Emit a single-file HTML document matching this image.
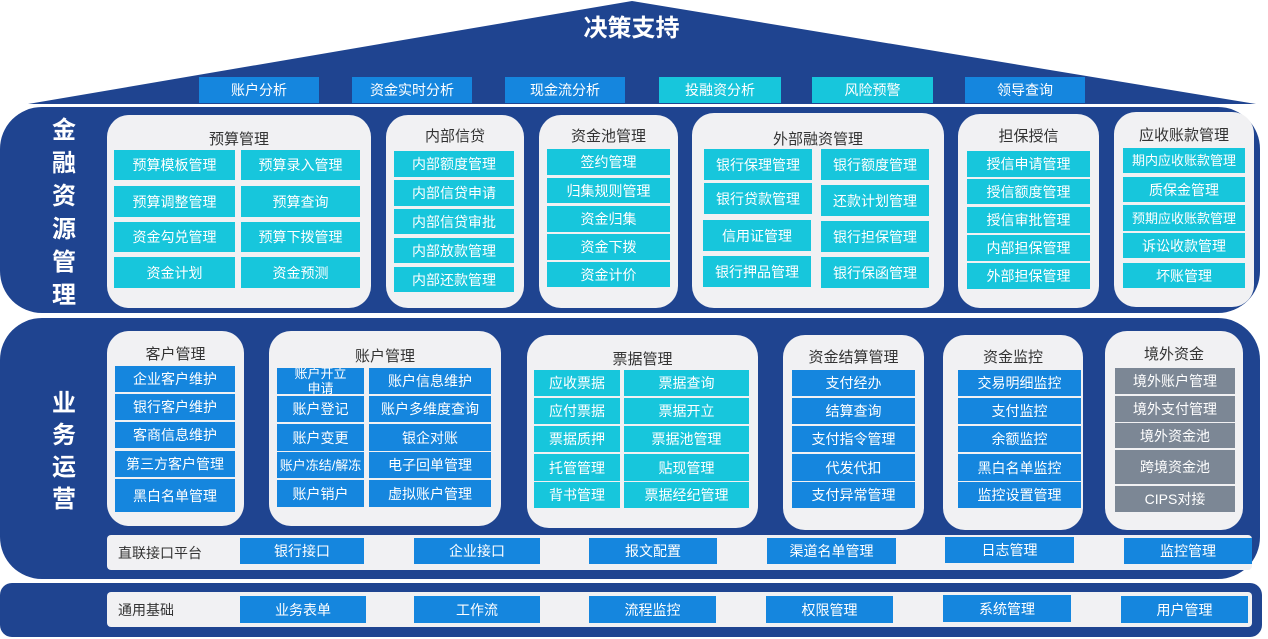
<!DOCTYPE html>
<html><head><meta charset="utf-8"><style>
*{margin:0;padding:0;box-sizing:border-box}
body{width:1268px;height:639px;background:#fff;position:relative;overflow:hidden;font-family:"Liberation Sans","Noto Sans CJK SC",sans-serif}
div{position:absolute}
.sec{background:#1f4490}
.box{background:#f1f1f3;border-radius:22px}
.t{color:#333;font-size:15px;text-align:center;white-space:nowrap}
.i{color:#fff;font-size:14px;display:flex;align-items:center;justify-content:center;text-align:center;white-space:nowrap;line-height:1}
.c{background:#17c6dc}
.b{background:#1586de}
.g{background:#7c8795}
.v{color:#fff;font-weight:bold;font-size:24px;width:40px;text-align:center;left:44px}
.bar{background:#f1f1f3;border-radius:4px}
.lb{color:#333;font-size:14px}
</style></head><body>
<svg style="position:absolute;left:0;top:0" width="1268" height="639"><polygon points="28,104 632,1 1256,104" fill="#1f4490"/></svg>
<div style="left:0;top:8px;width:1263px;text-align:center;color:#fff;font-size:24px;font-weight:bold">决策支持</div>
<div class="i b" style="left:199px;top:77px;width:120px;height:26px">账户分析</div>
<div class="i b" style="left:352px;top:77px;width:120px;height:26px">资金实时分析</div>
<div class="i b" style="left:505px;top:77px;width:120px;height:26px">现金流分析</div>
<div class="i c" style="left:659px;top:77px;width:122px;height:26px">投融资分析</div>
<div class="i c" style="left:812px;top:77px;width:121px;height:26px">风险预警</div>
<div class="i b" style="left:965px;top:77px;width:120px;height:26px">领导查询</div>

<div class="sec" style="left:0;top:107px;width:1260px;height:206px;border-radius:42px"></div>
<div class="sec" style="left:0;top:318px;width:1260px;height:261px;border-radius:42px"></div>
<div class="sec" style="left:0;top:583px;width:1262px;height:54px;border-radius:12px"></div>

<div class="v" style="top:114px;line-height:33px">金<br>融<br>资<br>源<br>管<br>理</div>
<div class="v" style="top:388px;line-height:32px">业<br>务<br>运<br>营</div>

<!-- 预算管理 -->
<div class="box" style="left:107px;top:115px;width:264px;height:193px"></div>
<div class="t" style="left:107px;top:128px;width:264px">预算管理</div>
<div class="i c" style="left:114px;top:150px;width:121px;height:30px">预算模板管理</div>
<div class="i c" style="left:241px;top:150px;width:119px;height:30px">预算录入管理</div>
<div class="i c" style="left:114px;top:186px;width:121px;height:31px">预算调整管理</div>
<div class="i c" style="left:241px;top:186px;width:119px;height:31px">预算查询</div>
<div class="i c" style="left:114px;top:222px;width:121px;height:30px">资金勾兑管理</div>
<div class="i c" style="left:241px;top:222px;width:119px;height:30px">预算下拨管理</div>
<div class="i c" style="left:114px;top:257px;width:121px;height:31px">资金计划</div>
<div class="i c" style="left:241px;top:257px;width:119px;height:31px">资金预测</div>
<!-- 内部信贷 -->
<div class="box" style="left:386px;top:115px;width:138px;height:193px"></div>
<div class="t" style="left:386px;top:125px;width:138px">内部信贷</div>
<div class="i c" style="left:394px;top:151px;width:120px;height:26px">内部额度管理</div>
<div class="i c" style="left:394px;top:180px;width:120px;height:26px">内部信贷申请</div>
<div class="i c" style="left:394px;top:209px;width:120px;height:25px">内部信贷审批</div>
<div class="i c" style="left:394px;top:238px;width:120px;height:25px">内部放款管理</div>
<div class="i c" style="left:394px;top:267px;width:120px;height:25px">内部还款管理</div>
<!-- 资金池管理 -->
<div class="box" style="left:539px;top:115px;width:139px;height:193px"></div>
<div class="t" style="left:539px;top:125px;width:139px">资金池管理</div>
<div class="i c" style="left:547px;top:149px;width:123px;height:26px">签约管理</div>
<div class="i c" style="left:547px;top:178px;width:123px;height:25px">归集规则管理</div>
<div class="i c" style="left:547px;top:206px;width:123px;height:26px">资金归集</div>
<div class="i c" style="left:547px;top:234px;width:123px;height:26px">资金下拨</div>
<div class="i c" style="left:547px;top:262px;width:123px;height:25px">资金计价</div>
<!-- 外部融资管理 -->
<div class="box" style="left:692px;top:113px;width:252px;height:195px"></div>
<div class="t" style="left:692px;top:128px;width:252px">外部融资管理</div>
<div class="i c" style="left:704px;top:149px;width:108px;height:31px">银行保理管理</div>
<div class="i c" style="left:821px;top:149px;width:108px;height:31px">银行额度管理</div>
<div class="i c" style="left:704px;top:183px;width:108px;height:31px">银行贷款管理</div>
<div class="i c" style="left:821px;top:185px;width:108px;height:31px">还款计划管理</div>
<div class="i c" style="left:703px;top:220px;width:108px;height:31px">信用证管理</div>
<div class="i c" style="left:821px;top:221px;width:108px;height:31px">银行担保管理</div>
<div class="i c" style="left:703px;top:256px;width:108px;height:31px">银行押品管理</div>
<div class="i c" style="left:821px;top:257px;width:108px;height:31px">银行保函管理</div>
<!-- 担保授信 -->
<div class="box" style="left:958px;top:114px;width:141px;height:194px"></div>
<div class="t" style="left:958px;top:125px;width:141px">担保授信</div>
<div class="i c" style="left:967px;top:151px;width:123px;height:26px">授信申请管理</div>
<div class="i c" style="left:967px;top:179px;width:123px;height:25px">授信额度管理</div>
<div class="i c" style="left:967px;top:207px;width:123px;height:26px">授信审批管理</div>
<div class="i c" style="left:967px;top:235px;width:123px;height:26px">内部担保管理</div>
<div class="i c" style="left:967px;top:263px;width:123px;height:26px">外部担保管理</div>
<!-- 应收账款管理 -->
<div class="box" style="left:1114px;top:112px;width:140px;height:195px"></div>
<div class="t" style="left:1114px;top:124px;width:140px">应收账款管理</div>
<div class="i c" style="left:1123px;top:148px;width:122px;height:25px;font-size:13px">期内应收账款管理</div>
<div class="i c" style="left:1123px;top:177px;width:122px;height:25px">质保金管理</div>
<div class="i c" style="left:1123px;top:205px;width:122px;height:26px;font-size:13px">预期应收账款管理</div>
<div class="i c" style="left:1123px;top:233px;width:122px;height:25px">诉讼收款管理</div>
<div class="i c" style="left:1123px;top:263px;width:122px;height:25px">坏账管理</div>

<!-- 客户管理 -->
<div class="box" style="left:107px;top:331px;width:137px;height:195px"></div>
<div class="t" style="left:107px;top:343px;width:137px">客户管理</div>
<div class="i b" style="left:115px;top:366px;width:120px;height:26px">企业客户维护</div>
<div class="i b" style="left:115px;top:394px;width:120px;height:26px">银行客户维护</div>
<div class="i b" style="left:115px;top:422px;width:120px;height:26px">客商信息维护</div>
<div class="i b" style="left:115px;top:451px;width:120px;height:26px">第三方客户管理</div>
<div class="i b" style="left:115px;top:479px;width:120px;height:33px">黑白名单管理</div>
<!-- 账户管理 -->
<div class="box" style="left:269px;top:331px;width:232px;height:195px"></div>
<div class="t" style="left:269px;top:345px;width:232px">账户管理</div>
<div class="i b" style="left:277px;top:368px;width:87px;height:26px;white-space:normal;font-size:13px;line-height:15px;overflow:hidden">账户开立<br>申请</div>
<div class="i b" style="left:369px;top:368px;width:122px;height:26px">账户信息维护</div>
<div class="i b" style="left:277px;top:396px;width:87px;height:26px">账户登记</div>
<div class="i b" style="left:369px;top:396px;width:122px;height:26px">账户多维度查询</div>
<div class="i b" style="left:277px;top:424px;width:87px;height:27px">账户变更</div>
<div class="i b" style="left:369px;top:424px;width:122px;height:27px">银企对账</div>
<div class="i b" style="left:277px;top:452px;width:87px;height:26px;white-space:normal;font-size:13px;line-height:15px;overflow:hidden">账户冻结/解冻</div>
<div class="i b" style="left:369px;top:452px;width:122px;height:26px">电子回单管理</div>
<div class="i b" style="left:277px;top:480px;width:87px;height:27px">账户销户</div>
<div class="i b" style="left:369px;top:480px;width:122px;height:27px">虚拟账户管理</div>
<!-- 票据管理 -->
<div class="box" style="left:527px;top:335px;width:231px;height:193px"></div>
<div class="t" style="left:527px;top:348px;width:231px">票据管理</div>
<div class="i c" style="left:534px;top:370px;width:86px;height:26px">应收票据</div>
<div class="i c" style="left:624px;top:370px;width:125px;height:26px">票据查询</div>
<div class="i c" style="left:534px;top:398px;width:86px;height:26px">应付票据</div>
<div class="i c" style="left:624px;top:398px;width:125px;height:26px">票据开立</div>
<div class="i c" style="left:534px;top:426px;width:86px;height:26px">票据质押</div>
<div class="i c" style="left:624px;top:426px;width:125px;height:26px">票据池管理</div>
<div class="i c" style="left:534px;top:454px;width:86px;height:27px">托管管理</div>
<div class="i c" style="left:624px;top:454px;width:125px;height:27px">贴现管理</div>
<div class="i c" style="left:534px;top:482px;width:86px;height:26px">背书管理</div>
<div class="i c" style="left:624px;top:482px;width:125px;height:26px">票据经纪管理</div>
<!-- 资金结算管理 -->
<div class="box" style="left:783px;top:335px;width:141px;height:195px"></div>
<div class="t" style="left:783px;top:346px;width:141px">资金结算管理</div>
<div class="i b" style="left:792px;top:370px;width:123px;height:26px">支付经办</div>
<div class="i b" style="left:792px;top:398px;width:123px;height:26px">结算查询</div>
<div class="i b" style="left:792px;top:426px;width:123px;height:26px">支付指令管理</div>
<div class="i b" style="left:792px;top:454px;width:123px;height:27px">代发代扣</div>
<div class="i b" style="left:792px;top:482px;width:123px;height:26px">支付异常管理</div>
<!-- 资金监控 -->
<div class="box" style="left:943px;top:335px;width:140px;height:195px"></div>
<div class="t" style="left:943px;top:346px;width:140px">资金监控</div>
<div class="i b" style="left:958px;top:370px;width:123px;height:26px">交易明细监控</div>
<div class="i b" style="left:958px;top:398px;width:123px;height:26px">支付监控</div>
<div class="i b" style="left:958px;top:426px;width:123px;height:26px">余额监控</div>
<div class="i b" style="left:958px;top:454px;width:123px;height:27px">黑白名单监控</div>
<div class="i b" style="left:958px;top:482px;width:123px;height:26px">监控设置管理</div>
<!-- 境外资金 -->
<div class="box" style="left:1105px;top:331px;width:138px;height:199px"></div>
<div class="t" style="left:1105px;top:343px;width:138px">境外资金</div>
<div class="i g" style="left:1115px;top:368px;width:120px;height:26px">境外账户管理</div>
<div class="i g" style="left:1115px;top:396px;width:120px;height:26px">境外支付管理</div>
<div class="i g" style="left:1115px;top:423px;width:120px;height:25px">境外资金池</div>
<div class="i g" style="left:1115px;top:450px;width:120px;height:34px">跨境资金池</div>
<div class="i g" style="left:1115px;top:486px;width:120px;height:26px">CIPS对接</div>

<!-- 直联接口平台 -->
<div class="bar" style="left:107px;top:535px;width:1145px;height:35px"></div>
<div class="lb" style="left:118px;top:543px">直联接口平台</div>
<div class="i b" style="left:240px;top:538px;width:124px;height:26px">银行接口</div>
<div class="i b" style="left:414px;top:538px;width:126px;height:26px">企业接口</div>
<div class="i b" style="left:589px;top:538px;width:128px;height:26px">报文配置</div>
<div class="i b" style="left:767px;top:538px;width:129px;height:26px">渠道名单管理</div>
<div class="i b" style="left:945px;top:537px;width:129px;height:26px">日志管理</div>
<div class="i b" style="left:1124px;top:538px;width:128px;height:26px">监控管理</div>

<!-- 通用基础 -->
<div class="bar" style="left:107px;top:592px;width:1145px;height:35px"></div>
<div class="lb" style="left:118px;top:600px">通用基础</div>
<div class="i b" style="left:240px;top:596px;width:126px;height:27px">业务表单</div>
<div class="i b" style="left:414px;top:596px;width:126px;height:27px">工作流</div>
<div class="i b" style="left:589px;top:596px;width:127px;height:27px">流程监控</div>
<div class="i b" style="left:766px;top:596px;width:127px;height:27px">权限管理</div>
<div class="i b" style="left:943px;top:595px;width:128px;height:27px">系统管理</div>
<div class="i b" style="left:1121px;top:596px;width:127px;height:27px">用户管理</div>
</body></html>
